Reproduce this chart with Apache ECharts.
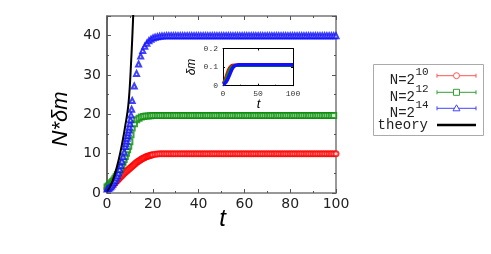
<!DOCTYPE html>
<html>
<head>
<meta charset="utf-8">
<script src="https://cdn.jsdelivr.net/npm/echarts@6/dist/echarts.min.js"></script>
<style>
html,body{margin:0;padding:0;background:#fff;}
#chart{width:491px;height:254px;}
</style>
</head>
<body>
<div id="chart"></div>
<script>
// ---------- data ----------
var tRed = [0,0.5,1,1.5,2,2.5,3,3.5,4,4.5,5,5.5,6,6.5,7,7.5,8,8.5,9,9.5,10,10.5,11,11.5,12,12.5,13,13.5,14,14.5,15,15.5,16,16.5,17,17.5,18,18.5,19,19.5,20,21,22,23,24,25,26,27,28,29,30,31,32,33,34,35,36,37,38,39,40,41,42,43,44,45,46,47,48,49,50,51,52,53,54,55,56,57,58,59,60,61,62,63,64,65,66,67,68,69,70,71,72,73,74,75,76,77,78,79,80,81,82,83,84,85,86,87,88,89,90,91,92,93,94,95,96,97,98,99,100];
var red10 = [1.1,1.25,1.4,1.6,1.8,2.05,2.3,2.6,2.9,3.2,3.5,3.8,4.1,4.4,4.7,5.0,5.3,5.55,5.8,6.05,6.3,6.55,6.8,7.05,7.3,7.55,7.8,8.0,8.2,8.4,8.6,8.75,8.9,9.05,9.2,9.3,9.4,9.5,9.6,9.68,9.75,9.85,9.9,9.95,10,10,10,10,10,10,10,10,10,10,10,10,10,10,10,10,10,10,10,10,10,10,10,10,10,10,10,10,10,10,10,10,10,10,10,10,10,10,10,10,10,10,10,10,10,10,10,10,10,10,10,10,10,10,10,10,10,10,10,10,10,10,10,10,10,10,10,10,10,10,10,10,10,10,10,10,10];
var tGreen = [0,0.5,1,1.5,2,2.5,3,3.5,4,4.5,5,5.5,6,6.5,7,7.5,8,8.5,9,9.5,10,10.5,11,12,13,14,15,16,17,18,19,20,21,22,23,24,25,26,27,28,29,30,31,32,33,34,35,36,37,38,39,40,41,42,43,44,45,46,47,48,49,50,51,52,53,54,55,56,57,58,59,60,61,62,63,64,65,66,67,68,69,70,71,72,73,74,75,76,77,78,79,80,81,82,83,84,85,86,87,88,89,90,91,92,93,94,95,96,97,98,99,100];
var green12 = [1.5,1.75,2.0,2.3,2.6,2.95,3.3,3.75,4.2,4.7,5.2,5.8,6.4,7.1,7.8,8.5,9.3,10.1,11.0,11.9,13.0,14.8,16.5,17.6,18.6,19.0,19.3,19.45,19.55,19.6,19.65,19.7,19.7,19.7,19.7,19.7,19.7,19.7,19.7,19.7,19.7,19.7,19.7,19.7,19.7,19.7,19.7,19.7,19.7,19.7,19.7,19.7,19.7,19.7,19.7,19.7,19.7,19.7,19.7,19.7,19.7,19.7,19.7,19.7,19.7,19.7,19.7,19.7,19.7,19.7,19.7,19.7,19.7,19.7,19.7,19.7,19.7,19.7,19.7,19.7,19.7,19.7,19.7,19.7,19.7,19.7,19.7,19.7,19.7,19.7,19.7,19.7,19.7,19.7,19.7,19.7,19.7,19.7,19.7,19.7,19.7,19.7,19.7,19.7,19.7,19.7,19.7,19.7,19.7,19.7,19.7];
var tBlue = [0,0.5,1,1.5,2,2.5,3,3.5,4,4.5,5,5.5,6,6.5,7,7.5,8,8.25,8.5,8.75,9,9.25,9.5,9.75,10,10.25,10.5,10.75,11,11.9,12.9,13.8,14.7,15.6,16.5,17.4,18.3,19.2,20.1,21,22,23,24,25,26,27,28,29,30,31,32,33,34,35,36,37,38,39,40,41,42,43,44,45,46,47,48,49,50,51,52,53,54,55,56,57,58,59,60,61,62,63,64,65,66,67,68,69,70,71,72,73,74,75,76,77,78,79,80,81,82,83,84,85,86,87,88,89,90,91,92,93,94,95,96,97,98,99,100];
var blue14 = [1.0,1.15,1.3,1.5,1.8,2.2,2.7,3.2,3.8,4.4,5.1,6.0,7.0,8.1,9.2,10.4,11.8,12.5,13.2,13.9,14.6,15.3,16.0,16.8,17.6,18.6,19.8,21.3,23.5,27.2,30.4,32.8,34.8,36.2,37.3,38.1,38.7,39.1,39.4,39.6,39.75,39.85,39.9,39.95,40,40,40,40,40,40,40,40,40,40,40,40,40,40,40,40,40,40,40,40,40,40,40,40,40,40,40,40,40,40,40,40,40,40,40,40,40,40,40,40,40,40,40,40,40,40,40,40,40,40,40,40,40,40,40,40,40,40,40,40,40,40,40,40,40,40,40,40,40,40,40,40,40,40,40,40,40];
var tTheory = [0,1,2,3,4,5,6,7,8,9,9.5,10,10.5,11,11.5,12];
var theory = [0.5,1.2,2.4,4.0,6.0,8.2,10.8,13.8,17.2,20.8,23.5,27.5,33,39,46,53];

var tInset = [0,2,4,6,8,10,12,14,16,18,20,22,25,30,40,50,60,70,80,90,100];
var insetRed = [0.012,0.025,0.045,0.068,0.088,0.100,0.107,0.110,0.111,0.111,0.111,0.111,0.111,0.111,0.111,0.111,0.111,0.111,0.111,0.111,0.111];
var insetGreen = [0.010,0.018,0.032,0.052,0.072,0.090,0.100,0.105,0.107,0.108,0.108,0.108,0.108,0.108,0.108,0.108,0.108,0.108,0.108,0.108,0.108];
var insetBlue = [0.006,0.010,0.018,0.030,0.046,0.064,0.082,0.096,0.105,0.109,0.111,0.112,0.112,0.112,0.112,0.112,0.112,0.112,0.112,0.112,0.112];

var mainYTicks = [0,10,20,30,40];
var legendNames = ['N=2', 'N=2', 'N=2', 'theory'];
var legendSups = ['10', '12', '14', ''];

// ---------- helpers ----------
function zip(a, b) { var o = []; for (var i = 0; i < a.length; i++) o.push([a[i], b[i]]); return o; }

var C_RED = '#ff0000', C_GREEN = '#0a8f0a', C_BLUE = '#1010ff';
var L_RED = '#ff5555', L_GREEN = '#33a033', L_BLUE = '#4444ff';
var AX = '#777';

var chart = echarts.init(document.getElementById('chart'), null, {renderer: 'canvas'});

function mainAxisCommon(extra) {
  var base = {
    axisLine: {show: true, onZero: false, lineStyle: {color: AX, width: 1.5}},
    axisTick: {show: true, inside: true, length: 4, lineStyle: {color: '#555', width: 1}},
    minorTick: {show: true, splitNumber: 2, length: 2, lineStyle: {color: '#555', width: 1}},
    splitLine: {show: false},
    minorSplitLine: {show: false}
  };
  for (var k in extra) base[k] = extra[k];
  return base;
}

var legendRowsY = [75.7, 92.3, 108.3, 125];
var legendColors = [L_RED, L_GREEN, L_BLUE, '#000'];
var graphics = [];
function ctext(x, y, txt, font, rot) {
  return {type: 'text', x: x, y: y, rotation: rot || 0, z: 100,
    style: {text: txt, font: font, fill: '#000', align: 'center', verticalAlign: 'middle', textAlign: 'center', textVerticalAlign: 'middle'}};
}
// axis titles
graphics.push(ctext(61, 119, 'N*δm', 'italic 22px "Liberation Sans"', Math.PI / 2));
graphics.push(ctext(222.5, 219, 't', 'italic 24px "Liberation Sans"'));
graphics.push(ctext(191.5, 67, 'δm', 'italic 12px "Liberation Sans"', Math.PI / 2));
graphics.push(ctext(258.5, 104, 't', 'italic 13px "Liberation Sans"'));
// legend box
graphics.push({type: 'rect', shape: {x: 373.5, y: 64.5, width: 110, height: 71}, z: 90,
  style: {fill: '#fff', stroke: '#aaa', lineWidth: 1}});
for (var i = 0; i < 4; i++) {
  var ly = legendRowsY[i];
  var col = legendColors[i];
  if (legendSups[i]) {
    graphics.push({type: 'text', x: 415, y: ly + 4.5, z: 100,
      style: {text: legendNames[i], font: '14px "Liberation Mono"', fill: '#222', align: 'right', verticalAlign: 'middle', textAlign: 'right', textVerticalAlign: 'middle'}});
    graphics.push({type: 'text', x: 415.5, y: ly - 3.5, z: 100,
      style: {text: legendSups[i], font: '11px "Liberation Mono"', fill: '#222', align: 'left', verticalAlign: 'middle', textAlign: 'left', textVerticalAlign: 'middle'}});
    graphics.push({type: 'line', shape: {x1: 437, y1: ly, x2: 476, y2: ly}, z: 100, style: {stroke: col, lineWidth: 1}});
    graphics.push({type: 'line', shape: {x1: 437, y1: ly - 2, x2: 437, y2: ly + 2}, z: 100, style: {stroke: col, lineWidth: 1}});
    graphics.push({type: 'line', shape: {x1: 476, y1: ly - 2, x2: 476, y2: ly + 2}, z: 100, style: {stroke: col, lineWidth: 1}});
    if (i === 0) graphics.push({type: 'circle', shape: {cx: 456.5, cy: ly, r: 3}, z: 101, style: {fill: '#fff', stroke: col, lineWidth: 1}});
    if (i === 1) graphics.push({type: 'rect', shape: {x: 453.5, y: ly - 3, width: 6, height: 6}, z: 101, style: {fill: '#fff', stroke: col, lineWidth: 1}});
    if (i === 2) graphics.push({type: 'polygon', shape: {points: [[456.5, ly - 3.5], [453, ly + 2.5], [460, ly + 2.5]]}, z: 101, style: {fill: '#fff', stroke: col, lineWidth: 1}});
  } else {
    graphics.push({type: 'text', x: 428, y: ly + 0.5, z: 100,
      style: {text: legendNames[i], font: '14px "Liberation Mono"', fill: '#222', align: 'right', verticalAlign: 'middle', textAlign: 'right', textVerticalAlign: 'middle'}});
    graphics.push({type: 'line', shape: {x1: 437, y1: ly, x2: 476, y2: ly}, z: 100, style: {stroke: '#000', lineWidth: 2.5}});
  }
}

var option = {
  animation: false,
  backgroundColor: '#fff',
  grid: [
    {left: 107, top: 16, width: 229, height: 177, show: false},
    {left: 223, top: 48.5, width: 70, height: 37.2, show: true, backgroundColor: '#fff', borderWidth: 0, z: 5}
  ],
  xAxis: [
    mainAxisCommon({type: 'value', gridIndex: 0, min: 0, max: 100, interval: 20, position: 'bottom',
      axisLabel: {show: true, fontFamily: 'DejaVu Sans', fontSize: 14, color: '#222', margin: 4}}),
    mainAxisCommon({type: 'value', gridIndex: 0, min: 0, max: 100, interval: 20, position: 'top',
      axisLabel: {show: false}}),
    {type: 'value', gridIndex: 1, min: 0, max: 100, interval: 50, position: 'bottom', z: 6,
      axisLine: {show: true, onZero: false, lineStyle: {color: '#000', width: 1}},
      axisTick: {show: true, inside: true, length: 2, lineStyle: {color: '#000'}},
      minorTick: {show: true, splitNumber: 2, length: 1, lineStyle: {color: '#000'}},
      splitLine: {show: false},
      axisLabel: {fontFamily: 'Liberation Mono', fontSize: 8, color: '#333', margin: 4}},
    {type: 'value', gridIndex: 1, min: 0, max: 100, interval: 50, position: 'top', z: 6,
      axisLine: {show: true, onZero: false, lineStyle: {color: '#000', width: 1}},
      axisTick: {show: true, inside: true, length: 2, lineStyle: {color: '#000'}},
      splitLine: {show: false}, axisLabel: {show: false}}
  ],
  yAxis: [
    mainAxisCommon({type: 'value', gridIndex: 0, min: 0, max: 45, interval: 10, position: 'left',
      axisLine: {show: true, onZero: false, lineStyle: {color: '#333', width: 1.5}},
      axisLabel: {show: true, showMaxLabel: false, fontFamily: 'DejaVu Sans', fontSize: 14, color: '#222', margin: 6,
        formatter: function (v) { return mainYTicks.indexOf(v) >= 0 ? String(v) : ''; }}}),
    mainAxisCommon({type: 'value', gridIndex: 0, min: 0, max: 45, interval: 10, position: 'right',
      axisLabel: {show: false}}),
    {type: 'value', gridIndex: 1, min: 0, max: 0.2, interval: 0.1, position: 'left', z: 6,
      axisLine: {show: true, onZero: false, lineStyle: {color: '#000', width: 1}},
      axisTick: {show: true, inside: true, length: 2, lineStyle: {color: '#000'}},
      minorTick: {show: true, splitNumber: 2, length: 1, lineStyle: {color: '#000'}},
      splitLine: {show: false},
      axisLabel: {fontFamily: 'Liberation Mono', fontSize: 8, color: '#333', margin: 5,
        formatter: function (v) { return v === 0 ? '0' : v.toFixed(1); }}},
    {type: 'value', gridIndex: 1, min: 0, max: 0.2, interval: 0.1, position: 'right', z: 6,
      axisLine: {show: true, onZero: false, lineStyle: {color: '#000', width: 1}},
      axisTick: {show: true, inside: true, length: 2, lineStyle: {color: '#000'}},
      splitLine: {show: false}, axisLabel: {show: false}}
  ],
  series: [
    {type: 'scatter', name: 'N=2^10', xAxisIndex: 0, yAxisIndex: 0, data: zip(tRed, red10),
      symbol: 'emptyCircle', symbolSize: 5, itemStyle: {color: C_RED, borderWidth: 1}, z: 2},
    {type: 'scatter', name: 'N=2^12', xAxisIndex: 0, yAxisIndex: 0, data: zip(tGreen, green12),
      symbol: 'emptyRect', symbolSize: 5, itemStyle: {color: C_GREEN, borderWidth: 1}, z: 3},
    {type: 'scatter', name: 'N=2^14', xAxisIndex: 0, yAxisIndex: 0, data: zip(tBlue, blue14),
      symbol: 'emptyTriangle', symbolSize: 5, itemStyle: {color: C_BLUE, borderWidth: 1}, z: 4},
    {type: 'line', name: 'theory', xAxisIndex: 0, yAxisIndex: 0, data: zip(tTheory, theory),
      smooth: true, showSymbol: false, symbol: 'none', clip: true, lineStyle: {color: '#000', width: 2}, z: 5},
    {type: 'line', xAxisIndex: 2, yAxisIndex: 2, data: zip(tInset, insetRed), smooth: true,
      showSymbol: false, symbol: 'none', lineStyle: {color: C_RED, width: 3}, z: 7},
    {type: 'line', xAxisIndex: 2, yAxisIndex: 2, data: zip(tInset, insetGreen), smooth: true,
      showSymbol: false, symbol: 'none', lineStyle: {color: C_GREEN, width: 3}, z: 8},
    {type: 'line', xAxisIndex: 2, yAxisIndex: 2, data: zip(tInset, insetBlue), smooth: true,
      showSymbol: false, symbol: 'none', lineStyle: {color: C_BLUE, width: 3.5}, z: 9}
  ],
  graphic: graphics
};
chart.setOption(option);
</script>
</body>
</html>
